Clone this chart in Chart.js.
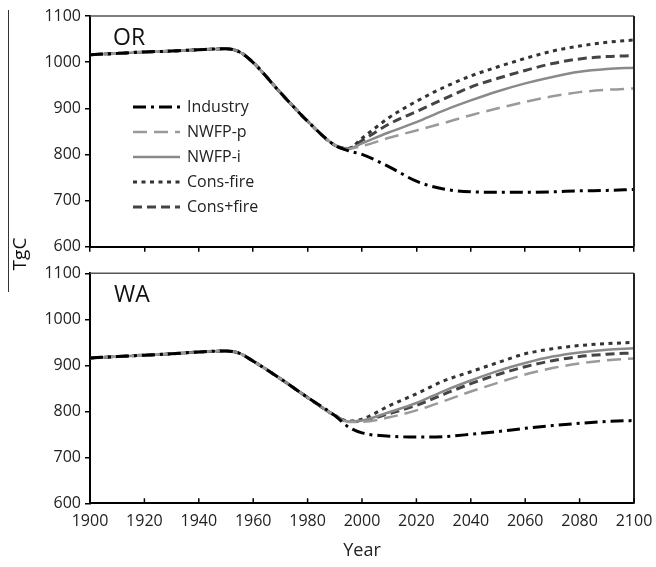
<!DOCTYPE html>
<html>
<head>
<meta charset="utf-8">
<script src="https://cdn.jsdelivr.net/npm/chart.js@4.4.0/dist/chart.umd.min.js"></script>
<style>
body{margin:0;background:#fff;font-family:"Open Sans",sans-serif;}
#wrap{position:relative;width:656px;height:567px;overflow:hidden;}
canvas{position:absolute;left:0;}
#c1{top:0;}
#c2{top:262px;}
.panel{position:absolute;font-size:23px;color:#111;line-height:1;}
#yline{position:absolute;left:8px;top:10px;width:1px;height:282px;background:#333;}
#ylab{position:absolute;left:19px;top:254px;font-size:19px;color:#111;transform:translate(-50%,-50%) rotate(-90deg);white-space:nowrap;}
</style>
</head>
<body>
<div id="wrap">
<canvas id="c1" width="656" height="262"></canvas>
<canvas id="c2" width="656" height="305"></canvas>
<div class="panel" style="left:113px;top:25px;">OR</div>
<div class="panel" style="left:114px;top:282px;">WA</div>
<div id="yline"></div>
<div id="ylab">TgC</div>
</div>
<script>
// years before the scenarios split (same for every scenario)
let histYears = [1900, 1910, 1920, 1930, 1940, 1950, 1955, 1960, 1970, 1980, 1990];
let futYears = [1995, 2000, 2010, 2020, 2030, 2040, 2050, 2060, 2070, 2080, 2090, 2100];
let xTicks = [1900, 1920, 1940, 1960, 1980, 2000, 2020, 2040, 2060, 2080, 2100];

// Oregon
let orHist = [1016, 1019, 1022, 1024, 1027, 1029, 1022, 999, 934, 872, 820];
let orIndustry = [808, 800, 773, 742, 725, 719, 718, 718, 719, 721, 722, 724];
let orNwfpP = [812, 818, 836, 852, 868, 885, 900, 914, 926, 935, 940, 943];
let orNwfpI = [812, 824, 848, 870, 895, 917, 937, 954, 968, 979, 985, 988];
let orConsMinus = [813, 835, 880, 915, 945, 970, 990, 1008, 1024, 1035, 1043, 1048];
let orConsPlus = [813, 830, 866, 893, 920, 946, 965, 982, 997, 1007, 1012, 1014];

// Washington
let waHist = [916, 919, 922, 925, 929, 931, 926, 909, 871, 830, 791];
let waIndustry = [766, 753, 746, 744, 745, 750, 756, 763, 769, 774, 778, 780];
let waNwfpP = [777, 777, 787, 802, 822, 843, 862, 880, 894, 904, 911, 915];
let waNwfpI = [778, 780, 798, 818, 844, 867, 888, 905, 919, 928, 934, 937];
let waConsMinus = [779, 783, 812, 838, 866, 886, 906, 925, 936, 943, 947, 950];
let waConsPlus = [778, 779, 795, 813, 837, 860, 880, 897, 910, 919, 924, 927];

let names = ["Industry", "NWFP-p", "NWFP-i", "Cons-fire", "Cons+fire"];

let styles = [
    {color: "#000", width: 3, dash: [13, 5, 3, 5]},
    {color: "#9a9a9a", width: 2.5, dash: [14, 7]},
    {color: "#8a8a8a", width: 2.5, dash: []},
    {color: "#333", width: 3, dash: [4, 4.5]},
    {color: "#444", width: 3, dash: [9, 5]}
];

const FONT = "'Open Sans', sans-serif";

function makeSet(i, hist, fut){
    let pts = [];
    for (let k = 0; k < histYears.length; k++) pts.push({x: histYears[k], y: hist[k]});
    for (let k = 0; k < futYears.length; k++) pts.push({x: futYears[k], y: fut[k]});
    return {
        label: names[i],
        data: pts,
        borderColor: styles[i].color,
        borderWidth: styles[i].width,
        borderDash: styles[i].dash,
        pointRadius: 0,
        fill: false,
        cubicInterpolationMode: "monotone"
    };
}

// frame on top and right, inward ticks, legend
let framePlugin = {
    id: "frame",
    afterDraw(chart, args, opts){
        let c = chart.ctx, a = chart.chartArea;
        c.save();
        c.strokeStyle = "#555";
        c.lineWidth = 1.5;
        c.beginPath();
        c.moveTo(a.left, a.top);
        c.lineTo(a.right, a.top);
        c.stroke();
        c.strokeStyle = "#222";
        c.lineWidth = 2;
        c.beginPath();
        c.moveTo(a.right, a.top);
        c.lineTo(a.right, a.bottom);
        c.stroke();

        if (opts.innerTicks) {
            c.strokeStyle = "#000";
            c.lineWidth = 1.5;
            for (let v of xTicks) {
                let px = chart.scales.x.getPixelForValue(v);
                c.beginPath();
                c.moveTo(px, a.bottom);
                c.lineTo(px, a.bottom - 5);
                c.stroke();
            }
        }

        if (opts.legend) {
            let x0 = a.left + 43, y0 = a.top + 91;
            c.font = "16px " + FONT;
            c.textBaseline = "middle";
            c.fillStyle = "#222";
            for (let i = 0; i < names.length; i++) {
                let y = y0 + i * 25;
                c.strokeStyle = styles[i].color;
                c.lineWidth = styles[i].width;
                c.setLineDash(styles[i].dash);
                c.beginPath();
                c.moveTo(x0, y);
                c.lineTo(x0 + 47, y);
                c.stroke();
                c.setLineDash([]);
                c.fillText(names[i], x0 + 54, y);
            }
        }
        c.restore();
    }
};

function makeChart(id, hist, series, bottom){
    let sets = [];
    for (let i = 0; i < series.length; i++) sets.push(makeSet(i, hist, series[i]));

    let xAxis = {
        type: "linear",
        min: 1900,
        max: 2100,
        afterBuildTicks(scale){ scale.ticks = xTicks.map(v => ({value: v})); },
        afterFit(scale){
            scale.height = bottom ? 63.7 : 15.3;
            scale.paddingLeft = 0;
            scale.paddingRight = 0;
        },
        border: {color: "#000", width: 2},
        grid: {drawOnChartArea: false, drawTicks: !bottom, display: !bottom, tickLength: 5, color: "#000", lineWidth: 1.5},
        ticks: {
            display: bottom,
            padding: 9,
            color: "#222",
            maxRotation: 0,
            callback: v => String(v),
            font: {family: FONT, size: 16}
        },
        title: {
            display: bottom,
            text: "Year",
            color: "#222",
            font: {family: FONT, size: 18},
            padding: {top: 0, bottom: 5}
        }
    };

    return new Chart(document.getElementById(id), {
        type: "line",
        data: {datasets: sets},
        options: {
            responsive: false,
            animation: false,
            layout: {padding: {left: 0, right: 22, top: bottom ? 11.3 : 16, bottom: 0}},
            plugins: {
                legend: {display: false},
                tooltip: {enabled: false},
                frame: {legend: !bottom, innerTicks: bottom}
            },
            scales: {
                x: xAxis,
                y: {
                    min: 600,
                    max: 1100,
                    afterFit(scale){
                        scale.width = 90;
                        scale.paddingTop = 0;
                        scale.paddingBottom = 0;
                    },
                    border: {color: "#000", width: 2},
                    grid: {drawOnChartArea: false, tickLength: 5, color: "#000", lineWidth: 1.5},
                    ticks: {
                        stepSize: 100,
                        padding: 4,
                        color: "#222",
                        callback: v => String(v),
                        font: {family: FONT, size: 16}
                    }
                }
            }
        },
        plugins: [framePlugin]
    });
}

makeChart("c1", orHist, [orIndustry, orNwfpP, orNwfpI, orConsMinus, orConsPlus], false);
makeChart("c2", waHist, [waIndustry, waNwfpP, waNwfpI, waConsMinus, waConsPlus], true);
</script>
</body>
</html>
